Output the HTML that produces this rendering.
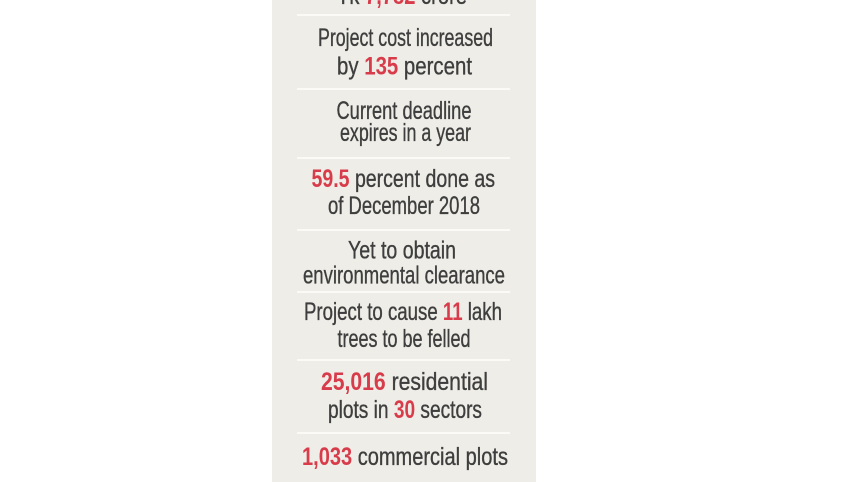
<!DOCTYPE html>
<html>
<head>
<meta charset="utf-8">
<style>
  html, body { margin: 0; padding: 0; background: #ffffff; }
  body { width: 857px; height: 482px; overflow: hidden; }
  svg { display: block; }
  text { font-family: "Liberation Sans", "DejaVu Sans", sans-serif; font-size: 25px; }
  .g { fill: #3e3e3e; stroke: #3e3e3e; stroke-width: 0.35px; }
  .r { fill: #d83c4a; font-weight: bold; }
</style>
</head>
<body>
<svg width="857" height="482" viewBox="0 0 857 482" xmlns="http://www.w3.org/2000/svg">
  <rect x="0" y="0" width="857" height="482" fill="#ffffff"/>
  <rect x="272" y="0" width="264" height="482" fill="#eeede7"/>

  <!-- separators -->
  <g fill="#fbfaf7">
    <rect x="297" y="14" width="213" height="2"/>
    <rect x="297" y="88" width="213" height="2"/>
    <rect x="297" y="157" width="213" height="2"/>
    <rect x="297" y="229" width="213" height="2"/>
    <rect x="297" y="291" width="213" height="2"/>
    <rect x="297" y="359" width="213" height="2"/>
    <rect x="297" y="432" width="213" height="2"/>
  </g>

  <text x="337" y="4" textLength="130" lengthAdjust="spacingAndGlyphs"><tspan class="g">Tk </tspan><tspan class="r">7,782</tspan><tspan class="g"> crore</tspan></text>

  <text class="g" x="318" y="46" textLength="175" lengthAdjust="spacingAndGlyphs">Project cost increased</text>
  <text x="337" y="74.5" textLength="135" lengthAdjust="spacingAndGlyphs"><tspan class="g">by </tspan><tspan class="r">135</tspan><tspan class="g"> percent</tspan></text>

  <text class="g" x="336.5" y="119" textLength="135" lengthAdjust="spacingAndGlyphs">Current deadline</text>
  <text class="g" x="340" y="141" textLength="131" lengthAdjust="spacingAndGlyphs">expires in a year</text>

  <text x="311.5" y="187" textLength="183.5" lengthAdjust="spacingAndGlyphs"><tspan class="r">59.5</tspan><tspan class="g"> percent done as</tspan></text>
  <text class="g" x="328" y="214" textLength="152" lengthAdjust="spacingAndGlyphs">of December 2018</text>

  <text class="g" x="348" y="258.5" textLength="108" lengthAdjust="spacingAndGlyphs">Yet to obtain</text>
  <text class="g" x="303" y="283.5" textLength="202" lengthAdjust="spacingAndGlyphs">environmental clearance</text>

  <text x="304" y="320" textLength="198" lengthAdjust="spacingAndGlyphs"><tspan class="g">Project to cause </tspan><tspan class="r">11</tspan><tspan class="g"> lakh</tspan></text>
  <text class="g" x="337.5" y="347" textLength="133" lengthAdjust="spacingAndGlyphs">trees to be felled</text>

  <text x="321" y="390" textLength="167" lengthAdjust="spacingAndGlyphs"><tspan class="r">25,016</tspan><tspan class="g"> residential</tspan></text>
  <text x="328" y="418" textLength="154" lengthAdjust="spacingAndGlyphs"><tspan class="g">plots in </tspan><tspan class="r">30</tspan><tspan class="g"> sectors</tspan></text>

  <text x="302" y="465" textLength="206" lengthAdjust="spacingAndGlyphs"><tspan class="r">1,033</tspan><tspan class="g"> commercial plots</tspan></text>
</svg>
</body>
</html>
